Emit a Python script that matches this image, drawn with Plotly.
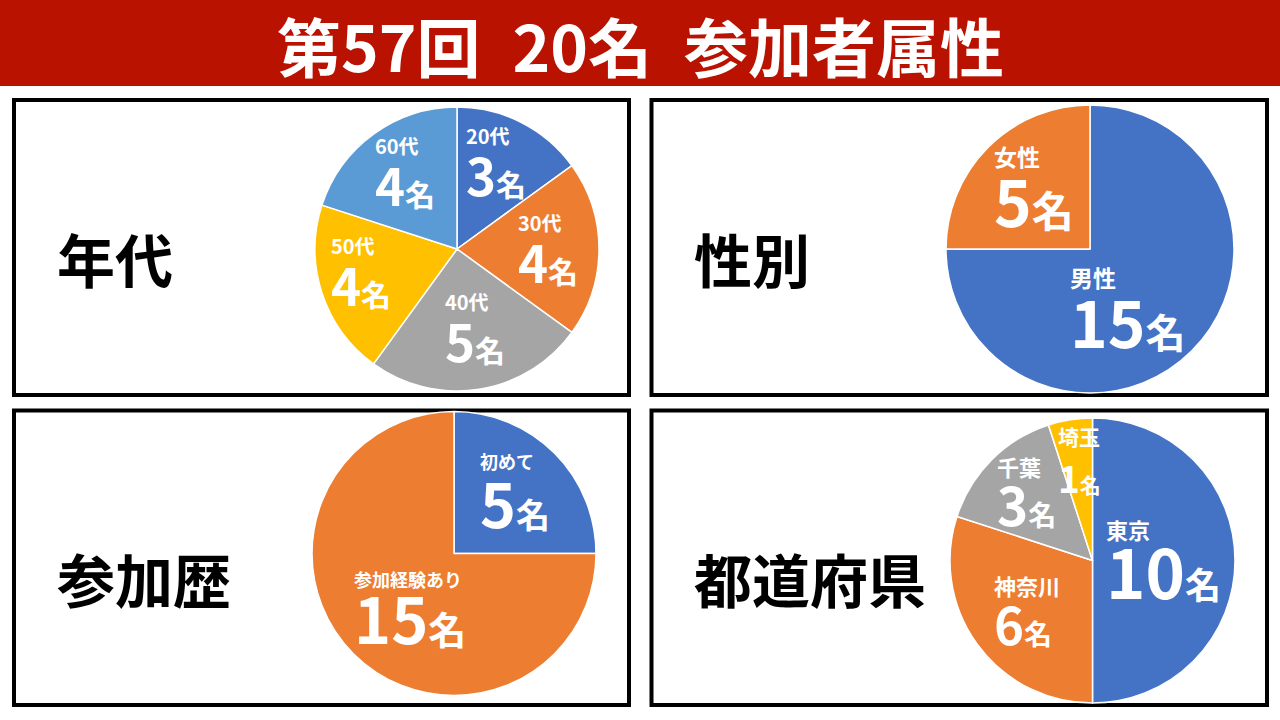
import math
import plotly.graph_objects as go

# ---------------- data ----------------
title_text = "第57回 20名 参加者属性"

age_labels = ["20代", "30代", "40代", "50代", "60代"]
age_values = [3, 4, 5, 4, 4]

gender_labels = ["男性", "女性"]
gender_values = [15, 5]

exp_labels = ["初めて", "参加経験あり"]
exp_values = [5, 15]

pref_labels = ["東京", "神奈川", "千葉", "埼玉"]
pref_values = [10, 6, 3, 1]

panel_titles = ["年代", "性別", "参加歴", "都道府県"]
unit = "名"

# ---------------- styles ----------------
W, H = 1280, 720
FONT = "Noto Sans CJK JP"
BLUE, ORANGE, GRAY, YELLOW, LBLUE = "#4472C4", "#ED7D31", "#A5A5A5", "#FFC000", "#5B9BD5"
RED = "#BA1200"

charts = [
    dict(labels=age_labels, values=age_values,
         colors=[BLUE, ORANGE, GRAY, YELLOW, LBLUE],
         center=(457, 249), R=142,
         rfrac=[0.70, 0.64, 0.54, 0.69, 0.68],
         aoff=[-4, -2.5, -4.6, 7, 3.4],
         lab=[20] * 5, num=[51] * 5, mei=[30] * 5, gap=[44] * 5),
    dict(labels=gender_labels, values=gender_values,
         colors=[BLUE, ORANGE],
         center=(1090, 249), R=144,
         rfrac=[0.46, 0.61], aoff=[10, 5],
         lab=[23, 23], num=[64, 64], mei=[40, 42], gap=[52, 52]),
    dict(labels=exp_labels, values=exp_values,
         colors=[BLUE, ORANGE],
         center=(454, 553.5), R=142,
         rfrac=[0.64, 0.47], aoff=[-3, -3.4],
         lab=[18, 18], num=[61, 63], mei=[34, 38], gap=[50, 48]),
    dict(labels=pref_labels, values=pref_values,
         colors=[BLUE, ORANGE, GRAY, YELLOW],
         center=(1092.5, 560.5), R=142.5,
         rfrac=[0.50, 0.56, 0.69, 0.73], aoff=[-5, 1, 2.7, 2],
         lab=[22, 22, 22, 21], num=[67, 51, 53, 37], mei=[36, 28, 28, 21], gap=[51, 42, 42, 41]),
]

panels = [(14, 100, 629, 395), (651.5, 100, 1267, 395),
          (14, 410.5, 629, 705), (651.5, 410.5, 1267, 705)]
title_pos = [(55, 258), (692, 258), (55, 578), (692, 578)]


def px(x):
    return x / W


def py(y):
    return 1 - y / H


fig = go.Figure()
annotations = []

for ch in charts:
    cx, cy = ch["center"]
    R = ch["R"]
    fig.add_trace(go.Pie(
        labels=ch["labels"], values=ch["values"],
        marker=dict(colors=ch["colors"], line=dict(color="white", width=1.5)),
        sort=False, direction="clockwise", rotation=0,
        textinfo="none", hoverinfo="skip", showlegend=False,
        domain=dict(x=[px(cx - R), px(cx + R)], y=[py(cy + R), py(cy - R)]),
    ))
    total = sum(ch["values"])
    cum = 0
    for i, (lab, v) in enumerate(zip(ch["labels"], ch["values"])):
        mid = (cum + v / 2) / total * 360 + ch["aoff"][i]
        cum += v
        r = ch["rfrac"][i] * R
        bx = cx + r * math.sin(math.radians(mid))
        by = cy - r * math.cos(math.radians(mid))
        base = ch["gap"][i] / 1.1
        text = (f"<span style='font-size:{ch['lab'][i]}px'><b>{lab}</b></span><br>"
                f"<span style='font-size:{ch['num'][i]}px'><b>{v}</b></span>"
                f"<span style='font-size:{ch['mei'][i]}px'><b>{unit}</b></span>")
        annotations.append(dict(
            x=px(bx), y=py(by), xref="paper", yref="paper",
            text=text, showarrow=False, align="left",
            xanchor="center", yanchor="middle",
            yshift=-(ch["num"][i] - ch["lab"][i]) * 0.2 - 2,
            font=dict(family=FONT, size=base, color="white"),
        ))

shapes = [dict(type="rect", xref="paper", yref="paper",
               x0=0, x1=1, y0=py(86), y1=1, fillcolor=RED, line=dict(width=0), layer="below")]
for (x0, y0, x1, y1) in panels:
    shapes.append(dict(type="rect", xref="paper", yref="paper",
                       x0=px(x0), x1=px(x1), y0=py(y1), y1=py(y0),
                       line=dict(color="black", width=4), fillcolor="rgba(0,0,0,0)", layer="below"))

annotations.append(dict(x=0.5, y=py(44), xref="paper", yref="paper", showarrow=False,
                        text="<b>" + title_text.replace(" ", "\u2002") + "</b>",
                        xanchor="center", yanchor="middle",
                        font=dict(family=FONT, size=64, color="white")))
for t, (x, y) in zip(panel_titles, title_pos):
    annotations.append(dict(x=px(x), y=py(y), xref="paper", yref="paper", showarrow=False,
                            text=f"<b>{t}</b>", xanchor="left", yanchor="middle",
                            font=dict(family=FONT, size=58, color="black")))

fig.update_layout(
    width=W, height=H, margin=dict(l=0, r=0, t=0, b=0),
    paper_bgcolor="white", plot_bgcolor="white",
    shapes=shapes, annotations=annotations, showlegend=False,
    font=dict(family=FONT),
)

fig.write_html("out.html", config={"displayModeBar": False},
               post_script="document.body.style.margin='0';document.body.style.overflow='hidden';")
